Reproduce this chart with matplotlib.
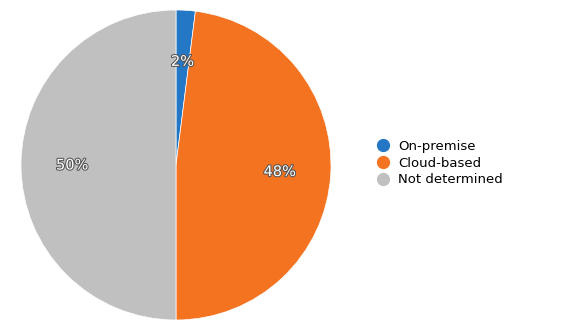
import matplotlib.pyplot as plt
import matplotlib.patheffects as pe
from matplotlib.lines import Line2D

labels = ['On-premise', 'Cloud-based', 'Not determined']
values = [2, 48, 50]
colors = ['#2477c4', '#f47321', '#c0c0c0']

fig = plt.figure(figsize=(5.8, 3.34), dpi=100)
ax = fig.add_axes([21 / 580, 14 / 334, 310 / 580, 310 / 334])

wedges, texts, autotexts = ax.pie(values, colors=colors, startangle=90, counterclock=False,
                                  autopct='%d%%', pctdistance=0.67,
                                  wedgeprops=dict(edgecolor='white', linewidth=0.5))
for t in autotexts:
    t.set_color('white')
    t.set_fontsize(10.5)
    t.set_path_effects([pe.withStroke(linewidth=1.5, foreground='#555555')])
ax.set_xlim(-1, 1)
ax.set_ylim(-1, 1)
ax.set_aspect('equal')

handles = [Line2D([], [], marker='o', linestyle='none', markersize=8.5,
                  markerfacecolor=c, markeredgecolor=c) for c in colors]
fig.legend(handles, labels, loc='center left', bbox_to_anchor=(368 / 580, 1 - 163 / 334),
           frameon=False, fontsize=9.5, handletextpad=0.6, labelspacing=0.3,
           handlelength=1.2, borderpad=0)

fig.savefig('out.png', dpi=100)
